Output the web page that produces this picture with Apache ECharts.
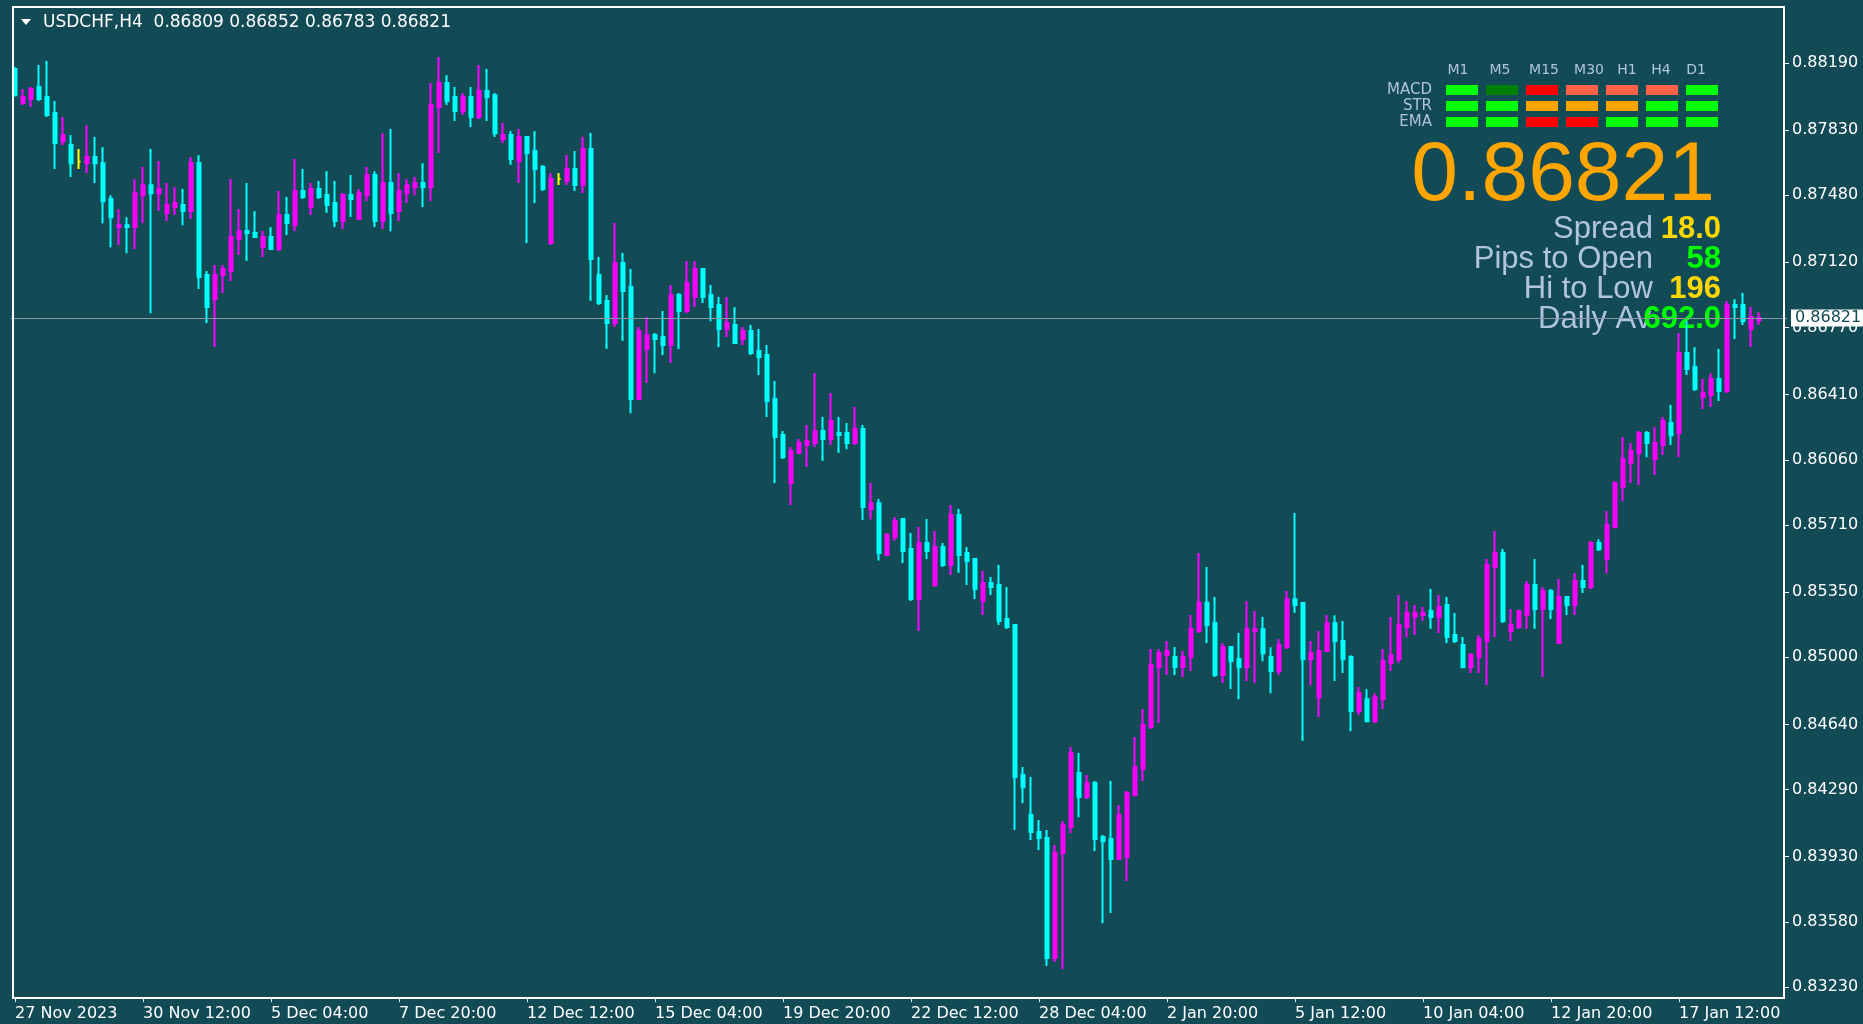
<!DOCTYPE html>
<html>
<head>
<meta charset="utf-8">
<title>USDCHF,H4</title>
<script src="https://cdn.jsdelivr.net/npm/echarts@6/dist/echarts.min.js"></script>
<style>
html, body { margin: 0; padding: 0; background: #124a56; }
#chart { width: 1863px; height: 1024px; }
</style>
</head>
<body>
<div id="chart"></div>
<script>
// K线数据 (H4, 从左到右)
const opens = [
  0.88157,0.87975,0.87996,0.88060,0.88007,0.87921,0.87770,0.87749,0.87659,0.87652,
  0.87685,0.87652,0.87459,0.87309,0.87319,0.87309,0.87480,0.87534,0.87491,0.87384,
  0.87416,0.87427,0.87395,0.87653,0.87051,0.86922,0.87051,0.87073,0.87245,0.87288,
  0.87277,0.87202,0.87255,0.87191,0.87374,0.87320,0.87502,0.87417,0.87513,0.87481,
  0.87438,0.87341,0.87481,0.87352,0.87480,0.87588,0.87341,0.87545,0.87395,0.87491,
  0.87523,0.87545,0.87523,0.87953,0.88082,0.88007,0.87932,0.88007,0.87899,0.88039,
  0.88017,0.87781,0.87803,0.87663,0.87792,0.87717,0.87631,0.87223,0.87567,0.87556,
  0.87621,0.87535,0.87728,0.87051,0.86912,0.86794,0.87116,0.86987,0.86386,0.86654,
  0.86729,0.86719,0.86676,0.86944,0.86858,0.86933,0.87084,0.86944,0.86891,0.86762,
  0.86783,0.86708,0.86751,0.86644,0.86622,0.86386,0.86193,0.85935,0.86096,0.86139,
  0.86150,0.86214,0.86171,0.86203,0.86203,0.86150,0.86225,0.85795,0.85827,0.85549,
  0.85646,0.85742,0.85581,0.85313,0.85613,0.85388,0.85592,0.85495,0.85764,0.85560,
  0.85527,0.85302,0.85399,0.85388,0.85205,0.85173,0.84368,0.84153,0.84062,0.84030,
  0.83386,0.83949,0.84089,0.84379,0.84250,0.84325,0.84035,0.84024,0.83917,0.83928,
  0.84260,0.84400,0.84626,0.84948,0.85012,0.85002,0.84948,0.85002,0.85141,0.85292,
  0.85184,0.84905,0.85055,0.84990,0.84947,0.85140,0.85151,0.85001,0.84926,0.85054,
  0.85312,0.85291,0.84990,0.84786,0.85033,0.85183,0.85087,0.85001,0.84711,0.84775,
  0.84657,0.84775,0.84969,0.84990,0.85162,0.85216,0.85227,0.85248,0.85216,0.85280,
  0.85119,0.85066,0.84947,0.85001,0.85087,0.85484,0.85560,0.85141,0.85162,0.85227,
  0.85388,0.85259,0.85356,0.85076,0.85323,0.85280,0.85409,0.85376,0.85613,0.85527,
  0.85698,0.85913,0.86042,0.86096,0.86203,0.86064,0.86139,0.86257,0.86203,0.86633,
  0.86558,0.86397,0.86407,0.86493,0.86429,0.86891,0.86891,0.86762,0.86809
]
const highs = [
  0.88168,0.88050,0.88060,0.88179,0.88200,0.87985,0.87899,0.87803,0.87728,0.87856,
  0.87792,0.87738,0.87480,0.87405,0.87362,0.87566,0.87631,0.87728,0.87663,0.87545,
  0.87523,0.87513,0.87685,0.87696,0.87073,0.87105,0.87105,0.87567,0.87406,0.87545,
  0.87395,0.87288,0.87309,0.87502,0.87470,0.87674,0.87621,0.87545,0.87556,0.87610,
  0.87556,0.87492,0.87588,0.87513,0.87631,0.87609,0.87813,0.87835,0.87599,0.87566,
  0.87577,0.87652,0.88082,0.88222,0.88125,0.88060,0.88028,0.88060,0.88179,0.88157,
  0.88028,0.87867,0.87824,0.87835,0.87792,0.87824,0.87642,0.87599,0.87599,0.87696,
  0.87717,0.87793,0.87814,0.87148,0.86944,0.87331,0.87170,0.87084,0.86772,0.86826,
  0.86740,0.86858,0.86998,0.86955,0.87127,0.87127,0.87084,0.86998,0.86934,0.86934,
  0.86880,0.86773,0.86783,0.86762,0.86676,0.86483,0.86214,0.86128,0.86171,0.86246,
  0.86526,0.86289,0.86418,0.86289,0.86257,0.86343,0.86246,0.85935,0.85850,0.85667,
  0.85753,0.85742,0.85667,0.85699,0.85742,0.85678,0.85613,0.85817,0.85796,0.85592,
  0.85527,0.85463,0.85431,0.85495,0.85377,0.85173,0.84411,0.84357,0.84127,0.84073,
  0.83992,0.84121,0.84518,0.84486,0.84368,0.84336,0.84046,0.84336,0.84207,0.84282,
  0.84572,0.84722,0.85045,0.85045,0.85087,0.85055,0.85034,0.85227,0.85560,0.85485,
  0.85324,0.85077,0.85055,0.85130,0.85301,0.85248,0.85216,0.85054,0.85097,0.85355,
  0.85774,0.85291,0.85087,0.85140,0.85226,0.85226,0.85194,0.85011,0.84840,0.84829,
  0.84807,0.85044,0.85216,0.85334,0.85301,0.85280,0.85270,0.85366,0.85334,0.85323,
  0.85237,0.85109,0.85023,0.85119,0.85527,0.85678,0.85581,0.85259,0.85248,0.85409,
  0.85527,0.85377,0.85366,0.85420,0.85323,0.85452,0.85495,0.85623,0.85634,0.85784,
  0.85945,0.86182,0.86150,0.86214,0.86214,0.86235,0.86289,0.86354,0.86740,0.86805,
  0.86665,0.86493,0.86525,0.86654,0.86912,0.86923,0.86955,0.86880,0.86852
]
const lows = [
  0.88009,0.87964,0.87953,0.87985,0.87899,0.87620,0.87749,0.87577,0.87620,0.87599,
  0.87545,0.87330,0.87201,0.87212,0.87169,0.87191,0.87330,0.86847,0.87395,0.87341,
  0.87373,0.87319,0.87352,0.86976,0.86794,0.86665,0.86955,0.87019,0.87159,0.87127,
  0.87255,0.87148,0.87191,0.87180,0.87266,0.87288,0.87459,0.87374,0.87459,0.87384,
  0.87309,0.87298,0.87363,0.87352,0.87448,0.87309,0.87298,0.87287,0.87341,0.87438,
  0.87480,0.87416,0.87448,0.87706,0.87964,0.87878,0.87910,0.87846,0.87889,0.87878,
  0.87792,0.87760,0.87642,0.87545,0.87223,0.87438,0.87503,0.87213,0.87535,0.87535,
  0.87503,0.87492,0.86912,0.86890,0.86654,0.86772,0.86697,0.86310,0.86386,0.86472,
  0.86525,0.86622,0.86579,0.86654,0.86847,0.86880,0.86901,0.86804,0.86665,0.86719,
  0.86687,0.86676,0.86622,0.86515,0.86289,0.85935,0.86064,0.85817,0.86096,0.86021,
  0.86128,0.86053,0.86139,0.86096,0.86117,0.86139,0.85737,0.85740,0.85520,0.85549,
  0.85624,0.85506,0.85302,0.85141,0.85527,0.85377,0.85485,0.85442,0.85452,0.85388,
  0.85313,0.85227,0.85334,0.85173,0.85152,0.84073,0.84217,0.84019,0.83966,0.83343,
  0.83364,0.83326,0.84056,0.84142,0.84239,0.83960,0.83573,0.83627,0.83917,0.83799,
  0.84260,0.84336,0.84615,0.84647,0.84905,0.84905,0.84894,0.84926,0.85130,0.85077,
  0.84894,0.84862,0.84830,0.84775,0.84872,0.84861,0.84979,0.84807,0.84904,0.85044,
  0.85237,0.84550,0.84850,0.84679,0.85033,0.84872,0.84915,0.84603,0.84689,0.84657,
  0.84646,0.84722,0.84926,0.84969,0.85108,0.85119,0.85194,0.85152,0.85130,0.85076,
  0.85076,0.84947,0.84915,0.84915,0.84851,0.85109,0.85184,0.85087,0.85152,0.85152,
  0.85152,0.84894,0.85205,0.85076,0.85227,0.85227,0.85345,0.85366,0.85570,0.85451,
  0.85698,0.85838,0.85935,0.85924,0.86074,0.85978,0.86085,0.86139,0.86074,0.86515,
  0.86429,0.86332,0.86343,0.86375,0.86418,0.86708,0.86783,0.86665,0.86783
]
const closes = [
  0.88017,0.88007,0.88050,0.87996,0.87910,0.87760,0.87803,0.87652,0.87659,0.87685,
  0.87652,0.87448,0.87362,0.87319,0.87309,0.87491,0.87534,0.87491,0.87513,0.87427,
  0.87438,0.87395,0.87653,0.87041,0.86880,0.87051,0.87084,0.87255,0.87288,0.87277,
  0.87255,0.87255,0.87191,0.87374,0.87331,0.87502,0.87470,0.87513,0.87470,0.87427,
  0.87341,0.87481,0.87459,0.87492,0.87588,0.87341,0.87545,0.87384,0.87502,0.87534,
  0.87545,0.87523,0.87964,0.88082,0.87985,0.87932,0.88007,0.87899,0.88039,0.88007,
  0.87813,0.87803,0.87674,0.87792,0.87706,0.87620,0.87513,0.87567,0.87567,0.87621,
  0.87535,0.87728,0.87137,0.86901,0.86794,0.87116,0.86966,0.86386,0.86751,0.86729,
  0.86708,0.86676,0.86944,0.86858,0.87009,0.87084,0.86933,0.86880,0.86762,0.86794,
  0.86687,0.86751,0.86633,0.86611,0.86375,0.86182,0.86074,0.86107,0.86150,0.86160,
  0.86214,0.86171,0.86268,0.86193,0.86150,0.86225,0.85806,0.85827,0.85560,0.85656,
  0.85732,0.85570,0.85313,0.85613,0.85570,0.85592,0.85495,0.85764,0.85549,0.85517,
  0.85366,0.85399,0.85377,0.85195,0.85162,0.84357,0.84303,0.84062,0.84030,0.83386,
  0.83950,0.84099,0.84486,0.84250,0.84325,0.84024,0.84013,0.83917,0.84153,0.84271,
  0.84411,0.84636,0.84959,0.85023,0.85034,0.84948,0.85002,0.85152,0.85292,0.85173,
  0.84905,0.85055,0.84980,0.84947,0.85151,0.85151,0.85022,0.84926,0.85065,0.85312,
  0.85280,0.84990,0.85022,0.85033,0.85183,0.85087,0.84990,0.84711,0.84807,0.84657,
  0.84786,0.84979,0.85011,0.85173,0.85237,0.85237,0.85237,0.85216,0.85270,0.85109,
  0.85087,0.84947,0.85012,0.85098,0.85495,0.85560,0.85194,0.85173,0.85248,0.85388,
  0.85259,0.85356,0.85259,0.85323,0.85280,0.85409,0.85377,0.85613,0.85580,0.85709,
  0.85935,0.86064,0.86107,0.86203,0.86150,0.86150,0.86268,0.86192,0.86633,0.86547,
  0.86440,0.86418,0.86493,0.86429,0.86891,0.86880,0.86805,0.86826,0.86821
]

// 时间轴标签 (每16根K线一个)
const dateLabels = ['27 Nov 2023', '30 Nov 12:00', '5 Dec 04:00', '7 Dec 20:00', '12 Dec 12:00',
  '15 Dec 04:00', '19 Dec 20:00', '22 Dec 12:00', '28 Dec 04:00', '2 Jan 20:00',
  '5 Jan 12:00', '10 Jan 04:00', '12 Jan 20:00', '17 Jan 12:00']
// 价格轴刻度
const priceTicks = [0.88190, 0.87830, 0.87480, 0.87120, 0.86770, 0.86410, 0.86060, 0.85710,
  0.85350, 0.85000, 0.84640, 0.84290, 0.83930, 0.83580, 0.83230]
const lastPrice = 0.86821
const chartTitle = 'USDCHF,H4  0.86809 0.86852 0.86783 0.86821'

// 右上角信号面板
const tfNames = ['M1', 'M5', 'M15', 'M30', 'H1', 'H4', 'D1']
const rowNames = ['MACD', 'STR', 'EMA']
const signalColors = [
  ['#00ff00', '#008000', '#ff0000', '#ff6347', '#ff6347', '#ff6347', '#00ff00'],
  ['#00ff00', '#00ff00', '#ffa500', '#ffa500', '#ffa500', '#00ff00', '#00ff00'],
  ['#00ff00', '#00ff00', '#ff0000', '#ff0000', '#00ff00', '#00ff00', '#00ff00']
]
const infoLabels = ['Spread', 'Pips to Open', 'Hi to Low', 'Daily Av']
const infoValues = ['18.0', '58', '196', '692.0']
const infoColors = ['#ffd700', '#00ff00', '#ffd700', '#00ff00']

const BG = '#124a56'
const BULL = '#ff00ff'
const BEAR = '#00ffff'
const DOJI = '#ffff00'
const SLOTS = 222 // 右侧留空

const chart = echarts.init(document.getElementById('chart'))

const categories = Array.from({ length: SLOTS }, (_, i) => String(i))
const candles = opens.map((o, i) => {
  const v = [o, closes[i], lows[i], highs[i]]
  if (o === closes[i]) {
    return { value: v, itemStyle: { color: DOJI, color0: DOJI, borderColor: DOJI, borderColor0: DOJI } }
  }
  return v
})

// 面板图形
const panel = []
const hdrX = [1458, 1500, 1544, 1589, 1627, 1661, 1696]
tfNames.forEach((n, j) => {
  panel.push({ type: 'text', x: hdrX[j], y: 70, style: { text: n, fill: '#b0c4de', font: '14px "DejaVu Sans"', align: 'center', verticalAlign: 'middle' } })
})
rowNames.forEach((n, r) => {
  panel.push({ type: 'text', x: 1432, y: 90 + r * 16, style: { text: n, fill: '#b0c4de', font: '15px "DejaVu Sans"', align: 'right', verticalAlign: 'middle' } })
  signalColors[r].forEach((c, j) => {
    panel.push({ type: 'rect', shape: { x: 1446 + j * 40, y: 85 + r * 16, width: 32, height: 10 }, style: { fill: c } })
  })
})
panel.push({ type: 'text', x: 1715, y: 177, style: { text: lastPrice.toFixed(5), fill: '#ffa500', font: '84px "Liberation Sans"', align: 'right', verticalAlign: 'middle' } })
infoLabels.forEach((t, k) => {
  const y = 229 + k * 30
  if (k < 3) {
    panel.push({ type: 'text', x: 1653, y: y, style: { text: t, fill: '#b0c4de', font: '31px "Liberation Sans"', align: 'right', verticalAlign: 'middle' } })
  } else {
    panel.push({ type: 'text', x: 1538, y: y, style: { text: t, fill: '#b0c4de', font: '31px "Liberation Sans"', align: 'left', verticalAlign: 'middle' } })
  }
  panel.push({ type: 'text', x: 1721, y: y, style: { text: infoValues[k], fill: infoColors[k], font: 'bold 31px "Liberation Sans"', align: 'right', verticalAlign: 'middle' } })
})

chart.setOption({
  backgroundColor: BG,
  animation: false,
  grid: { left: 11, top: 7, width: SLOTS * 8, height: 991, show: false },
  xAxis: {
    type: 'category',
    data: categories,
    boundaryGap: true,
    axisLine: { show: false },
    axisTick: { show: true, interval: 15, alignWithLabel: true, length: 4, lineStyle: { color: '#ffffff' } },
    axisLabel: {
      interval: 15,
      align: 'left',
      margin: 8,
      color: '#ffffff',
      fontFamily: 'DejaVu Sans',
      fontSize: 16,
      formatter: (v, i) => dateLabels[i / 16] || ''
    },
    splitLine: { show: false }
  },
  yAxis: {
    type: 'value',
    position: 'right',
    offset: -3,
    min: 0.831713,
    max: 0.88490,
    axisLine: { show: false },
    axisTick: { show: true, customValues: priceTicks, length: 5, lineStyle: { color: '#ffffff' } },
    axisLabel: {
      customValues: priceTicks,
      margin: 8,
      color: '#ffffff',
      fontFamily: 'DejaVu Sans',
      fontSize: 16,
      formatter: v => v.toFixed(5)
    },
    splitLine: { show: false }
  },
  series: [{
    type: 'candlestick',
    data: candles,
    barWidth: 4,
    itemStyle: {
      color: BULL,
      color0: BEAR,
      borderColor: BULL,
      borderColor0: BEAR,
      borderWidth: 2
    },
    markLine: {
      silent: true,
      precision: 5,
      symbol: ['none', 'none'],
      lineStyle: { color: '#8a99a3', width: 1, type: 'solid' },
      label: {
        show: true,
        position: 'end',
        distance: 4,
        formatter: lastPrice.toFixed(5),
        color: BG,
        backgroundColor: '#ffffff',
        fontFamily: 'DejaVu Sans',
        fontSize: 16,
        padding: [1, 6, 0, 4]
      },
      data: [{ yAxis: lastPrice }]
    }
  }],
  graphic: [
    // 图表边框
    { type: 'rect', shape: { x: 13, y: 7, width: 1771, height: 991 }, style: { fill: 'none', stroke: '#ffffff', lineWidth: 2 }, z: 10 },
    { type: 'polygon', shape: { points: [[21, 19], [31, 19], [26, 25]] }, style: { fill: '#ffffff' } },
    { type: 'text', x: 43, y: 23, style: { text: chartTitle, fill: '#ffffff', font: '17px "DejaVu Sans"', verticalAlign: 'middle' } },
    ...panel
  ]
})
</script>
</body>
</html>
